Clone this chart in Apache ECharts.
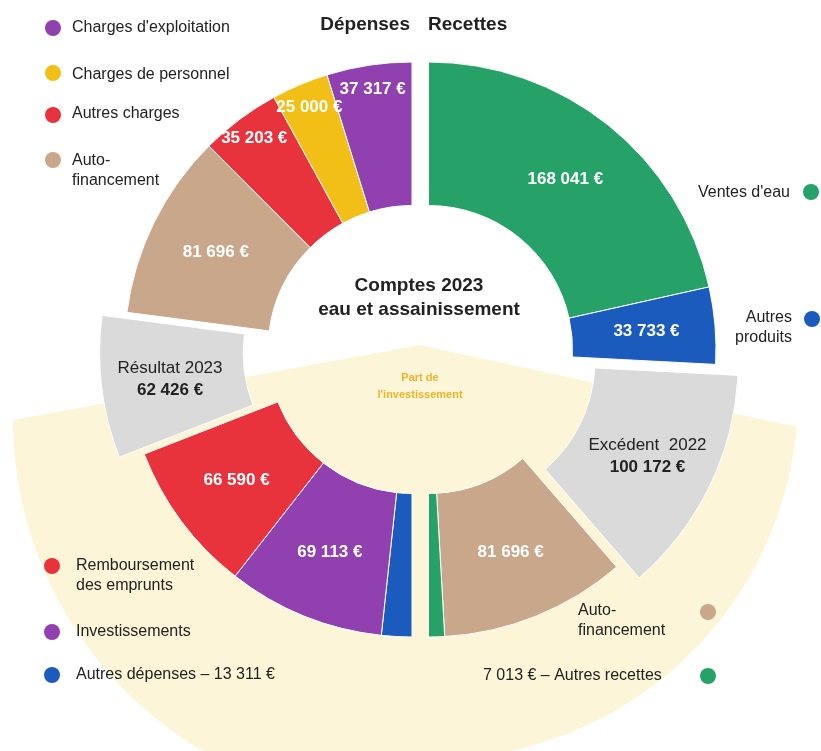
<!DOCTYPE html>
<html><head><meta charset="utf-8">
<script src="https://cdn.jsdelivr.net/npm/echarts@6/dist/echarts.min.js"></script>
<style>html,body{margin:0;padding:0;background:#fff}#c{width:821px;height:751px}</style>
</head><body><div id="c"></div>
<script>
// ---- Data ----
// Right half (Recettes), clockwise from 12 o'clock
const rightNames = ["Ventes d'eau", "Autres produits", "Excédent  2022", "Autofinancement", "Autres recettes"];
const rightValues = [168041, 33733, 100172, 81696, 7013];
// Left half (Dépenses), clockwise from 6 o'clock
const leftNames = ["Autres dépenses", "Investissements", "Remboursement des emprunts", "Résultat 2023", "Autofinancement", "Autres charges", "Charges de personnel", "Charges d'exploitation"];
const leftValues = [13311, 69113, 66590, 62426, 81696, 35203, 25000, 37317];

// ---- Styles ----
const C = {purple:'#9040AF', yellow:'#F2BF16', red:'#E8333C', tan:'#C8A78A', green:'#26A269', blue:'#1C5BBE', gray:'#DADADA'};
const rightColors = [C.green, C.blue, C.gray, C.tan, C.green];
const leftColors = [C.blue, C.purple, C.red, C.gray, C.tan, C.red, C.yellow, C.purple];
const rightExploded = [false, false, true, false, false];
const leftExploded = [false, false, false, true, false, false, false, false];
const rightLabelMode = ['in', 'in', 'gray', 'in', 'none'];
const leftLabelMode = ['none', 'in', 'in', 'gray', 'in', 'outer', 'outer', 'outer'];
const FONT = "'Liberation Sans', Arial, sans-serif";

const fmt = v => String(v).replace(/\B(?=(\d{3})+(?!\d))/g, '\u00a0') + '\u00a0€';

function labelFor(mode, carrier) {
  if (mode === 'gray') {
    return {show: !carrier, position: 'inside', lineHeight: 22,
      formatter: p => '{n|' + p.name + '}\n{v|' + fmt(p.value) + '}',
      rich: {n: {fontSize: 17, color: '#222', fontWeight: 'normal', fontFamily: FONT, lineHeight: 22},
             v: {fontSize: 17, color: '#222', fontWeight: 'bold', fontFamily: FONT, lineHeight: 22}}};
  }
  const show = carrier ? mode === 'outer' : mode === 'in';
  return {show: show, position: 'inside'};
}

function buildData(names, values, colors, exploded, modes, carrier) {
  return names.map((n, i) => ({
    name: n, value: values[i], selected: exploded[i],
    itemStyle: carrier ? {color: 'rgba(0,0,0,0)', borderWidth: 0} : {color: colors[i]},
    select: {itemStyle: carrier ? {color: 'rgba(0,0,0,0)', borderWidth: 0} : {color: colors[i], borderColor: '#fff', borderWidth: 1}},
    label: labelFor(modes[i], carrier)
  }));
}

const commonPie = {
  type: 'pie', clockwise: true, avoidLabelOverlap: false,
  selectedMode: 'multiple', selectedOffset: 25,
  emphasis: {disabled: true}, animation: false,
  itemStyle: {borderColor: '#fff', borderWidth: 1},
  label: {show: true, position: 'inside', color: '#fff', fontWeight: 'bold', fontSize: 17, fontFamily: FONT,
          formatter: p => fmt(p.value)},
  labelLine: {show: false}
};

const RC = [428.5, 349.5], LC = [412, 349.5];
const series = [
  Object.assign({}, commonPie, {name: 'Recettes', center: RC, radius: [144, 287.5], startAngle: 90, endAngle: -90,
    data: buildData(rightNames, rightValues, rightColors, rightExploded, rightLabelMode, false)}),
  Object.assign({}, commonPie, {name: 'Dépenses', center: LC, radius: [144, 287.5], startAngle: 270, endAngle: 90,
    data: buildData(leftNames, leftValues, leftColors, leftExploded, leftLabelMode, false)}),
  Object.assign({}, commonPie, {name: 'Dépenses-labels', center: LC, radius: [233, 287.5], startAngle: 270, endAngle: 90,
    z: 5, silent: true, itemStyle: {color: 'rgba(0,0,0,0)', borderWidth: 0},
    data: buildData(leftNames, leftValues, leftColors, leftExploded, leftLabelMode, true)})
];

// ---- Background "Part de l'investissement" (decorative shape) ----
const bgPts = [[420, 345]];
(function(){
  // left arc
  const L = {cx: 398, cy: 419, R: 385}, Rr = {cx: 434, cy: 395, R: 364};
  const la0 = Math.atan2(420 - L.cy, 13 - L.cx), la1 = Math.PI / 2 - 0.05;
  for (let k = 0; k <= 60; k++) {
    const a = la0 + (la1 - la0) * k / 60;
    bgPts.push([L.cx + L.R * Math.cos(a), L.cy + L.R * Math.sin(a)]);
  }
  bgPts.push([420, 900]);
  const ra0 = Math.PI / 2 - 0.05, ra1 = Math.atan2(427 - Rr.cy, 797 - Rr.cx);
  for (let k = 0; k <= 60; k++) {
    const a = ra0 + (ra1 - ra0) * k / 60;
    bgPts.push([Rr.cx + Rr.R * Math.cos(a), Rr.cy + Rr.R * Math.sin(a)]);
  }
})();

// ---- Legend-like annotations ----
const legendItems = [
  {text: leftNames[7], color: leftColors[7], dot: [53, 28], x: 72, y: 28, align: 'left'},
  {text: leftNames[6], color: leftColors[6], dot: [53, 73], x: 72, y: 75, align: 'left'},
  {text: leftNames[5], color: leftColors[5], dot: [53, 115], x: 72, y: 114, align: 'left'},
  {text: 'Auto-\nfinancement', color: leftColors[4], dot: [53, 160], x: 72, y: 161, align: 'left'},
  {text: 'Remboursement\ndes emprunts', color: leftColors[2], dot: [52, 566], x: 76, y: 566, align: 'left'},
  {text: leftNames[1], color: leftColors[1], dot: [52, 632], x: 76, y: 632, align: 'left'},
  {text: leftNames[0] + ' – ' + fmt(leftValues[0]), color: leftColors[0], dot: [52, 675], x: 76, y: 675, align: 'left'},
  {text: rightNames[0], color: rightColors[0], dot: [811, 192], x: 790, y: 193, align: 'right'},
  {text: 'Autres\nproduits', color: rightColors[1], dot: [812, 319], x: 792, y: 318, align: 'right'},
  {text: 'Auto-\nfinancement', color: rightColors[3], dot: [708, 612], x: 578, y: 611, align: 'left'},
  {text: fmt(rightValues[4]) + ' – ' + rightNames[4], color: rightColors[4], dot: [708, 676], x: 483, y: 676, align: 'left'}
];

const graphics = [
  {type: 'polygon', z: 0, shape: {points: bgPts}, style: {fill: '#FDF5D7'}, silent: true}
];
legendItems.forEach(it => {
  graphics.push({type: 'circle', z: 10, shape: {cx: it.dot[0], cy: it.dot[1], r: 8}, style: {fill: it.color}});
  graphics.push({type: 'text', z: 10, x: it.x, y: it.y - 10,
    style: {text: it.text, fill: '#222', font: '16px ' + FONT, align: it.align, verticalAlign: 'top', lineHeight: 20}});
});
graphics.push({type: 'text', z: 10, x: 410, y: 25, style: {text: 'Dépenses', fill: '#222', font: 'bold 19px ' + FONT, align: 'right', verticalAlign: 'middle'}});
graphics.push({type: 'text', z: 10, x: 428, y: 25, style: {text: 'Recettes', fill: '#222', font: 'bold 19px ' + FONT, align: 'left', verticalAlign: 'middle'}});
graphics.push({type: 'text', z: 10, x: 419, y: 274, style: {text: 'Comptes 2023\neau et assainissement', fill: '#222', font: 'bold 19px ' + FONT, align: 'center', verticalAlign: 'top', lineHeight: 24}});
graphics.push({type: 'text', z: 10, x: 420, y: 369, style: {text: "Part de\nl'investissement", fill: '#EDB42A', font: 'bold 11px ' + FONT, align: 'center', verticalAlign: 'top', lineHeight: 17}});

const chart = echarts.init(document.getElementById('c'), null, {renderer: 'canvas'});
chart.setOption({
  backgroundColor: '#fff',
  animation: false,
  graphic: {elements: graphics},
  series: series
});
</script></body></html>
